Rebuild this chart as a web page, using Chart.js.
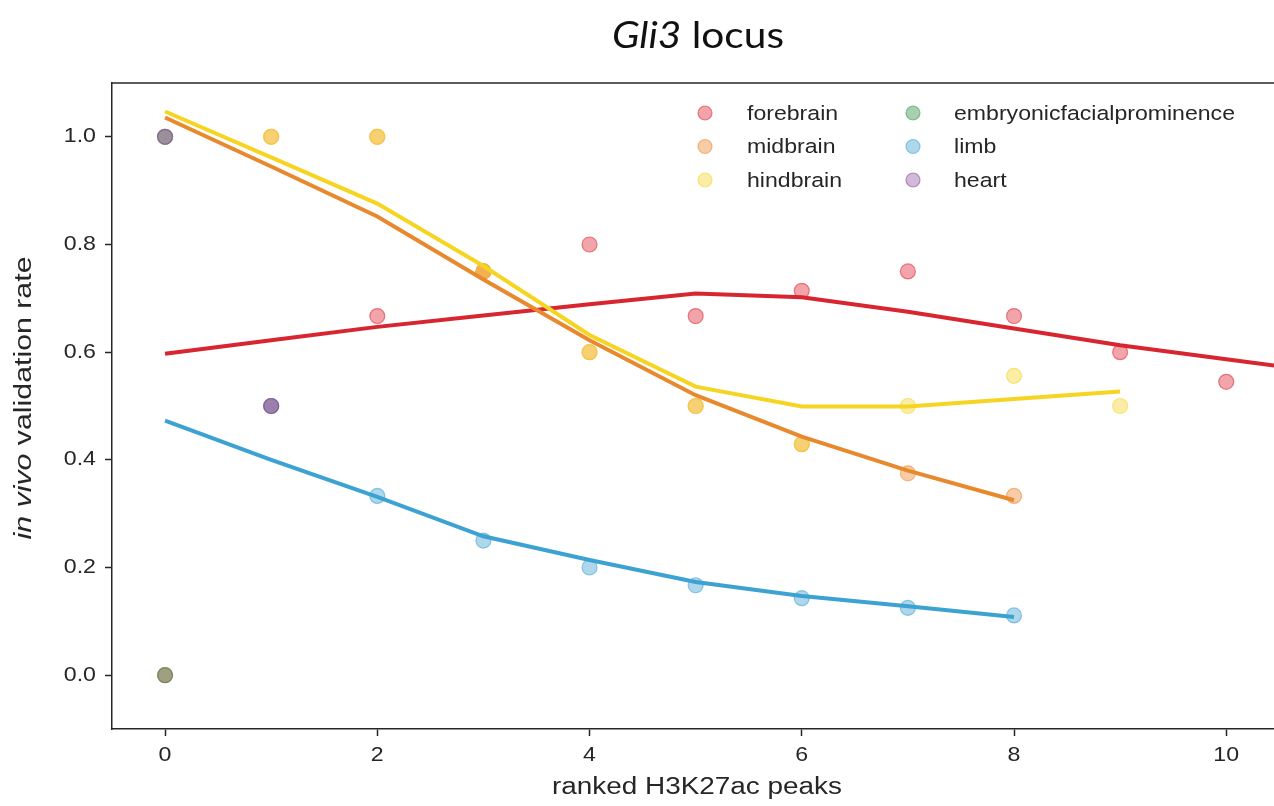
<!DOCTYPE html>
<html>
<head>
<meta charset="utf-8">
<script src="https://cdn.jsdelivr.net/npm/chart.js@4/dist/chart.umd.min.js"></script>
<style>
html,body{margin:0;padding:0;background:#fff;}
#wrap{width:1274px;height:806px;position:relative;}
</style>
</head>
<body>
<div id="wrap"><canvas id="c" width="1274" height="806"></canvas></div>
<script>
// ---- data ----
const xTicks = [0, 2, 4, 6, 8, 10];
const yTicks = [0.0, 0.2, 0.4, 0.6, 0.8, 1.0];
const tissues = ["forebrain", "midbrain", "hindbrain", "embryonicfacialprominence", "limb", "heart"];

// observed validation rates (x = rank)
const forebrainX = [0, 1, 2, 3, 4, 5, 6, 7, 8, 9, 10];
const forebrainY = [0.0, 0.5, 0.667, 0.75, 0.8, 0.667, 0.714, 0.75, 0.667, 0.6, 0.545];
const midbrainX = [0, 1, 2, 3, 4, 5, 6, 7, 8];
const midbrainY = [1.0, 1.0, 1.0, 0.75, 0.6, 0.5, 0.429, 0.375, 0.333];
const hindbrainX = [0, 1, 2, 3, 4, 5, 6, 7, 8, 9];
const hindbrainY = [1.0, 1.0, 1.0, 0.75, 0.6, 0.5, 0.429, 0.5, 0.556, 0.5];
const efpX = [0];
const efpY = [0.0];
const limbX = [0, 1, 2, 3, 4, 5, 6, 7, 8];
const limbY = [1.0, 0.5, 0.333, 0.25, 0.2, 0.167, 0.143, 0.125, 0.111];
const heartX = [0, 1];
const heartY = [1.0, 0.5];

// smoothed trend lines
const forebrainFitX = [0, 1, 2, 3, 4, 5, 6, 7, 8, 9, 10, 11];
const forebrainFitY = [0.597, 0.622, 0.647, 0.668, 0.689, 0.709, 0.702, 0.675, 0.644, 0.613, 0.587, 0.561];
const midbrainFitX = [0, 1, 2, 3, 4, 5, 6, 7, 8];
const midbrainFitY = [1.036, 0.945, 0.852, 0.735, 0.622, 0.520, 0.443, 0.380, 0.325];
const hindbrainFitX = [0, 1, 2, 3, 4, 5, 6, 7, 8, 9];
const hindbrainFitY = [1.047, 0.962, 0.876, 0.760, 0.632, 0.536, 0.499, 0.499, 0.513, 0.527];
const limbFitX = [0, 1, 2, 3, 4, 5, 6, 7, 8];
const limbFitY = [0.473, 0.400, 0.331, 0.258, 0.214, 0.173, 0.147, 0.128, 0.108];

// ---- styles ----
const base = {
  forebrain: [222, 40, 52],
  midbrain: [235, 135, 45],
  hindbrain: [246, 212, 40],
  embryonicfacialprominence: [60, 150, 80],
  limb: [62, 160, 210],
  heart: [135, 70, 150]
};
const alphaFill = { forebrain: 0.42, midbrain: 0.42, hindbrain: 0.42, embryonicfacialprominence: 0.45, limb: 0.42, heart: 0.38 };
const lineCol = {
  forebrain: '#d7262f',
  midbrain: '#e8892e',
  hindbrain: '#f6d422',
  limb: '#3ba2d2'
};
function rgba(c, a){ return 'rgba(' + c[0] + ',' + c[1] + ',' + c[2] + ',' + a + ')'; }
function pts(xs, ys){ return xs.map((x, i) => ({x: x, y: ys[i]})); }

const scatterSeries = [
  ['forebrain', forebrainX, forebrainY],
  ['midbrain', midbrainX, midbrainY],
  ['hindbrain', hindbrainX, hindbrainY],
  ['embryonicfacialprominence', efpX, efpY],
  ['limb', limbX, limbY],
  ['heart', heartX, heartY]
];
const fitSeries = [
  ['forebrain', forebrainFitX, forebrainFitY],
  ['midbrain', midbrainFitX, midbrainFitY],
  ['hindbrain', hindbrainFitX, hindbrainFitY],
  ['limb', limbFitX, limbFitY]
];

const datasets = [];
scatterSeries.forEach((s, i) => {
  datasets.push({
    type: 'scatter',
    label: s[0],
    data: pts(s[1], s[2]),
    backgroundColor: rgba(base[s[0]], alphaFill[s[0]]),
    borderColor: rgba(base[s[0]], 0.55),
    borderWidth: 1.2,
    pointRadius: 7.5,
    pointHoverRadius: 7.5,
    showLine: false,
    order: 20 - i
  });
});
fitSeries.forEach((s, i) => {
  datasets.push({
    type: 'line',
    label: s[0] + ' fit',
    data: pts(s[1], s[2]),
    borderColor: lineCol[s[0]],
    backgroundColor: lineCol[s[0]],
    borderWidth: 4,
    pointRadius: 0,
    tension: 0,
    fill: false,
    order: 10 - i
  });
});

const FONT = "'Liberation Sans', Arial, sans-serif";
const INK = '#262626';

// draw a sequence of [text, fontStyle] parts, stretched horizontally by sx, anchored at (x,y)
function drawParts(ctx, parts, size, family, x, y, align, sx, rot){
  ctx.save();
  ctx.translate(x, y);
  if (rot) ctx.rotate(rot);
  ctx.scale(sx, 1);
  let total = 0;
  const widths = parts.map(p => { ctx.font = p[1] + ' ' + size + 'px ' + family; const w = ctx.measureText(p[0]).width; total += w; return w; });
  let start = align === 'center' ? -total / 2 : (align === 'right' ? -total : 0);
  ctx.textAlign = 'left';
  ctx.textBaseline = 'middle';
  parts.forEach((p, i) => {
    ctx.font = p[1] + ' ' + size + 'px ' + family;
    ctx.fillText(p[0], start, 0);
    start += widths[i];
  });
  ctx.restore();
}
function partsWidth(ctx, parts, size, family){
  let t = 0;
  parts.forEach(p => { ctx.font = p[1] + ' ' + size + 'px ' + family; t += ctx.measureText(p[0]).width; });
  return t;
}

const decor = {
  id: 'decor',
  afterDraw(chart){
    const ctx = chart.ctx;
    const a = chart.chartArea;
    const xs = chart.scales.x, ys = chart.scales.y;
    ctx.save();
    // top spine
    ctx.strokeStyle = INK;
    ctx.lineWidth = 1.5;
    ctx.beginPath();
    ctx.moveTo(a.left - 0.75, a.top);
    ctx.lineTo(a.right, a.top);
    ctx.stroke();

    // tick labels
    ctx.fillStyle = INK;
    const TS = 20.5, TSX = 1.13;
    xTicks.forEach(v => {
      drawParts(ctx, [[String(v), 'normal']], TS, FONT, xs.getPixelForValue(v), 755, 'center', TSX, 0);
    });
    yTicks.forEach(v => {
      drawParts(ctx, [[v.toFixed(1), 'normal']], TS, FONT, 96, ys.getPixelForValue(v), 'right', TSX, 0);
    });

    // title: italic "Gli3" + regular " locus"
    const tf = "'Lato', 'Open Sans', sans-serif";
    ctx.fillStyle = '#111';
    const titleParts = [['Gli3', 'italic'], [' locus', 'normal']];
    const tw = partsWidth(ctx, titleParts, 37, tf);
    drawParts(ctx, titleParts, 37, tf, 698, 36, 'center', 172 / tw, 0);

    // x-axis title
    ctx.fillStyle = INK;
    const xl = [['ranked H3K27ac peaks', 'normal']];
    const xlw = partsWidth(ctx, xl, 23, FONT);
    drawParts(ctx, xl, 23, FONT, 697, 788, 'center', 290 / xlw, 0);

    // y-axis title
    const yl = [['in vivo', 'italic'], [' validation rate', 'normal']];
    const ylw = partsWidth(ctx, yl, 23, FONT);
    drawParts(ctx, yl, 23, FONT, 25, 398, 'center', 283 / ylw, -Math.PI / 2);

    // legend (2 columns x 3 rows)
    const colMarker = [705, 913];
    const colText = [747, 954];
    const rowY = [113, 146.5, 180];
    const efpW = partsWidth(ctx, [['embryonicfacialprominence', 'normal']], 20.5, FONT);
    const LSX = 281 / efpW;
    tissues.forEach((t, i) => {
      const c = Math.floor(i / 3), r = i % 3;
      ctx.beginPath();
      ctx.arc(colMarker[c], rowY[r], 7, 0, Math.PI * 2);
      ctx.fillStyle = rgba(base[t], alphaFill[t]);
      ctx.fill();
      ctx.lineWidth = 1.2;
      ctx.strokeStyle = rgba(base[t], 0.55);
      ctx.stroke();
      ctx.fillStyle = INK;
      drawParts(ctx, [[t, 'normal']], 20.5, FONT, colText[c], rowY[r] + 1, 'left', LSX, 0);
    });
    ctx.restore();
  }
};

function zeroPad(s){ s.paddingLeft = 0; s.paddingRight = 0; s.paddingTop = 0; s.paddingBottom = 0; }

new Chart(document.getElementById('c'), {
  data: { datasets: datasets },
  options: {
    responsive: false,
    animation: false,
    events: [],
    layout: { autoPadding: false, padding: { top: 83, right: 0, left: 0, bottom: 0 } },
    plugins: {
      legend: { display: false },
      tooltip: { enabled: false },
      title: { display: false }
    },
    scales: {
      x: {
        type: 'linear',
        min: -0.5,
        max: 10.45,
        afterBuildTicks: (s) => { s.ticks = xTicks.map(v => ({value: v})); },
        afterFit: (s) => { s.height = 77; zeroPad(s); },
        grid: { display: true, drawOnChartArea: false, drawTicks: true, tickLength: 7, tickColor: INK, tickWidth: 1.5 },
        border: { display: true, color: INK, width: 1.5 },
        ticks: { display: false }
      },
      y: {
        type: 'linear',
        min: -0.1,
        max: 1.1,
        afterBuildTicks: (s) => { s.ticks = yTicks.map(v => ({value: v})); },
        afterFit: (s) => { s.width = 112; zeroPad(s); },
        grid: { display: true, drawOnChartArea: false, drawTicks: true, tickLength: 7, tickColor: INK, tickWidth: 1.5 },
        border: { display: true, color: INK, width: 1.5 },
        ticks: { display: false }
      }
    }
  },
  plugins: [decor]
});
</script>
</body>
</html>
